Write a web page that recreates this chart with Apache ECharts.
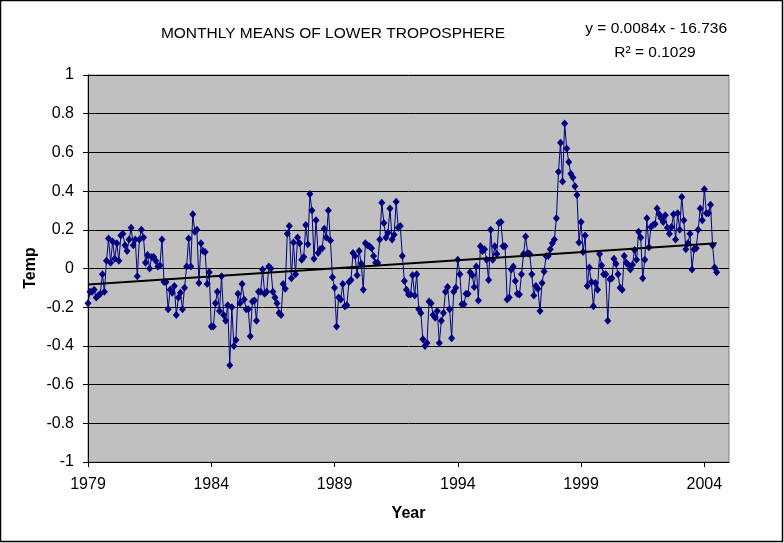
<!DOCTYPE html>
<html><head><meta charset="utf-8">
<script src="https://cdn.jsdelivr.net/npm/echarts@6/dist/echarts.min.js"></script>
<style>html,body{margin:0;padding:0;background:#fff}#c{width:784px;height:543px}</style>
</head><body><div id="c"></div>
<script>
// ---- data ----
const startYear = 1979;
const xTickOffsets = [0, 5, 10, 15, 20, 25];   // years after 1979 -> 1979..2004
const yMin = -1, yMax = 1, yStep = 0.2;
const titleText = 'MONTHLY MEANS OF LOWER TROPOSPHERE';
const eqText = 'y = 0.0084x - 16.736';
const r2Text = 'R² = 0.1029';
const xName = 'Year';
const yName = 'Temp';
// monthly anomalies, Jan 1979 onward
const temps = [
 -0.18,-0.12,-0.12,-0.11,-0.15,-0.14,-0.13,-0.03,-0.12,0.04,0.155,0.03,
 0.14,0.05,0.13,0.04,0.17,0.18,0.12,0.09,0.15,0.21,0.12,0.15,
 -0.04,0.15,0.20,0.16,0.03,0.07,0.0,0.06,0.06,0.04,0.01,0.015,
 0.15,-0.07,-0.07,-0.21,-0.11,-0.125,-0.09,-0.24,-0.15,-0.125,-0.21,-0.10,
 0.01,0.155,0.01,0.28,0.19,0.20,-0.075,0.13,0.09,0.085,-0.08,-0.02,
 -0.30,-0.30,-0.18,-0.12,-0.22,-0.04,-0.24,-0.27,-0.19,-0.50,-0.20,-0.40,
 -0.37,-0.13,-0.18,-0.08,-0.16,-0.21,-0.21,-0.35,-0.17,-0.165,-0.27,-0.12,
 -0.12,-0.005,-0.13,-0.12,0.01,0.0,-0.12,-0.15,-0.18,-0.23,-0.24,-0.08,
 -0.105,0.18,0.22,-0.05,0.135,-0.03,0.16,0.13,0.045,0.06,0.225,0.125,
 0.385,0.30,0.05,0.25,0.08,0.10,0.105,0.205,0.16,0.30,0.145,-0.045,
 -0.10,-0.30,-0.15,-0.16,-0.08,-0.195,-0.19,-0.07,-0.06,0.08,0.065,-0.035,
 0.09,0.025,-0.11,0.13,0.12,0.115,0.105,0.065,0.03,0.03,0.15,0.34,
 0.235,0.16,0.185,0.31,0.15,0.175,0.345,0.21,0.22,0.065,-0.065,-0.11,
 -0.135,-0.135,-0.035,-0.14,-0.03,-0.21,-0.23,-0.365,-0.40,-0.385,-0.17,-0.18,
 -0.24,-0.255,-0.22,-0.385,-0.27,-0.23,-0.12,-0.095,-0.21,-0.36,-0.12,-0.10,
 0.045,-0.03,-0.185,-0.185,-0.13,-0.13,-0.02,-0.035,-0.095,0.01,-0.165,0.115,
 0.09,0.10,0.045,-0.06,0.20,0.045,0.115,0.075,0.235,0.24,0.115,0.115,
 -0.16,-0.15,-0.005,0.01,-0.065,-0.13,-0.135,-0.03,0.075,0.165,0.08,0.075,
 -0.03,-0.14,-0.09,-0.105,-0.22,-0.075,-0.015,0.065,0.065,0.10,0.13,0.15,
 0.26,0.50,0.65,0.45,0.75,0.62,0.55,0.49,0.47,0.425,0.38,0.135,
 0.24,0.085,0.17,-0.09,0.005,-0.07,-0.195,-0.075,-0.11,0.075,0.015,-0.03,
 -0.03,-0.27,-0.055,-0.05,0.05,0.025,-0.03,-0.10,-0.11,0.065,0.03,0.02,
 -0.005,0.02,0.095,0.045,0.19,0.16,-0.05,0.045,0.26,0.11,0.215,0.225,
 0.23,0.31,0.28,0.26,0.24,0.275,0.21,0.18,0.215,0.28,0.15,0.285,
 0.20,0.37,0.25,0.10,0.13,0.18,-0.005,0.10,0.105,0.20,0.31,0.25,
 0.41,0.285,0.285,0.33,0.12,0.005,-0.02
];

// ---- build ----
const pts = temps.map((v, i) => [i / 12, v]);
// least-squares trend through the data
const n = pts.length;
let sx = 0, sy = 0, sxx = 0, sxy = 0;
pts.forEach(([x, y]) => { sx += x; sy += y; sxx += x * x; sxy += x * y; });
const slope = (n * sxy - sx * sy) / (n * sxx - sx * sx);
const icpt = (sy - slope * sx) / n;
const x0 = pts[0][0], x1 = pts[n - 1][0];
const trend = [[x0, icpt + slope * x0], [x1, icpt + slope * x1]];

const FONT = '"Liberation Sans", Arial, sans-serif';
const chart = echarts.init(document.getElementById('c'), null, { renderer: 'canvas' });
chart.setOption({
  animation: false,
  backgroundColor: '#ffffff',
  textStyle: { fontFamily: FONT },
  grid: {
    left: 88, top: 75, right: 55, bottom: 81,
    show: true, backgroundColor: '#C0C0C0', borderColor: '#808080', borderWidth: 1,
    outerBoundsMode: 'none', containLabel: false
  },
  xAxis: {
    type: 'value', min: 0, max: 26, interval: 5,
    name: xName, nameLocation: 'middle', nameGap: 44,
    nameTextStyle: { fontFamily: FONT, fontSize: 16, fontWeight: 'bold', color: '#000' },
    axisLine: { show: true, onZero: false, lineStyle: { color: '#000', width: 1 } },
    axisTick: { show: true, inside: false, length: 5, customValues: xTickOffsets, lineStyle: { color: '#000' } },
    axisLabel: { customValues: xTickOffsets, margin: 15, fontFamily: FONT, fontSize: 16, color: '#000',
                 formatter: v => String(startYear + Math.round(v)) },
    splitLine: { show: false }
  },
  yAxis: {
    type: 'value', min: yMin, max: yMax, interval: yStep,
    axisLine: { show: true, onZero: false, lineStyle: { color: '#000', width: 1 } },
    axisTick: { show: true, inside: false, length: 5, lineStyle: { color: '#000' } },
    axisLabel: { margin: 14, fontFamily: FONT, fontSize: 16, color: '#000',
                 formatter: v => String(Math.round(v * 10) / 10) },
    splitLine: { show: true, lineStyle: { color: '#000', width: 1, type: 'solid' } }
  },
  series: [
    {
      type: 'line', data: pts, symbol: 'diamond', symbolSize: [7, 8], showSymbol: true,
      lineStyle: { color: '#000080', width: 1 }, itemStyle: { color: '#000080' },
      z: 2, silent: true
    },
    {
      type: 'line', data: trend, symbol: 'none',
      lineStyle: { color: '#000000', width: 2 }, z: 3, silent: true
    }
  ],
  graphic: [
    { type: 'rect', shape: { x: 0.5, y: 0.5, width: 782, height: 541 },
      style: { fill: 'none', stroke: '#000', lineWidth: 1.5 }, silent: true },
    { type: 'text', x: 31, y: 268, rotation: Math.PI / 2,
      style: { text: yName, font: 'bold 16px ' + FONT, fill: '#000',
      textAlign: 'center', textVerticalAlign: 'middle' } },
    { type: 'text', x: 333, y: 34, style: { text: titleText, font: '15.5px ' + FONT, fill: '#000',
      textAlign: 'center', textVerticalAlign: 'middle' } },
    { type: 'text', x: 727, y: 29, style: { text: eqText, font: '15.5px ' + FONT, fill: '#000',
      textAlign: 'right', textVerticalAlign: 'middle' } },
    { type: 'text', x: 655, y: 53, style: { text: r2Text, font: '15.5px ' + FONT, fill: '#000',
      textAlign: 'center', textVerticalAlign: 'middle' } }
  ]
});
</script>
</body></html>
